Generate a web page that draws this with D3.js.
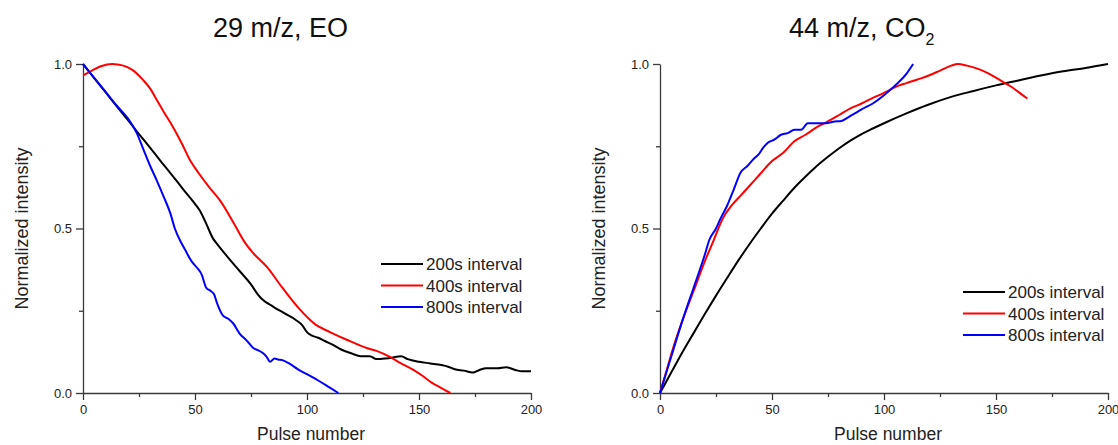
<!DOCTYPE html>
<html>
<head>
<meta charset="utf-8">
<script src="https://cdn.jsdelivr.net/npm/d3@7"></script>
<style>
  html, body { margin: 0; padding: 0; background: #fff; }
  svg { display: block; font-family: "Liberation Sans", Arial, sans-serif; }
</style>
</head>
<body>
<svg id="chart" width="1118" height="445"></svg>
<script>
// ---- Data: normalized intensity vs. pulse number ----
const seriesNames = ["200s interval", "400s interval", "800s interval"];
const seriesColors = ["#000000", "#ff0000", "#0000ff"];

const xTicks = [0, 50, 100, 150, 200];
const yTicks = [0.0, 0.5, 1.0];

// 29 m/z (EO)
const eo200 = [[0,1.0],[5,0.957],[10,0.915],[15,0.872],[20,0.83],[25,0.787],[30,0.745],[35,0.702],[40,0.66],[45,0.617],[50,0.575],[52,0.556],[55,0.515],[58,0.47],[60,0.452],[65,0.41],[70,0.37],[75,0.33],[78,0.30],[80,0.285],[85,0.262],[90,0.242],[95,0.222],[98,0.205],[100,0.185],[102,0.175],[105,0.168],[108,0.158],[112,0.145],[115,0.133],[120,0.12],[124,0.112],[128,0.112],[131,0.103],[135,0.105],[140,0.11],[142,0.112],[145,0.103],[150,0.095],[155,0.09],[160,0.085],[163,0.08],[166,0.072],[170,0.068],[174,0.062],[177,0.07],[180,0.075],[185,0.075],[189,0.078],[193,0.07],[196,0.066],[200,0.066]];
const eo400 = [[0,0.965],[4,0.98],[8,0.993],[13,1.0],[18,0.995],[22,0.982],[27,0.95],[30,0.925],[33,0.89],[36,0.855],[39,0.822],[44,0.76],[48,0.705],[52,0.665],[57,0.62],[61,0.587],[67,0.52],[72,0.46],[76,0.425],[82,0.384],[89,0.32],[96,0.26],[104,0.207],[110,0.186],[118,0.161],[127,0.136],[131,0.128],[137,0.11],[142,0.09],[147.5,0.07],[152,0.05],[156,0.03],[160,0.015],[164,0.0]];
const eo800 = [[0,1.0],[5,0.958],[10,0.916],[15,0.874],[20,0.835],[24,0.79],[27,0.74],[30,0.69],[33,0.645],[36,0.597],[39,0.546],[41,0.5],[44,0.455],[46,0.43],[48.5,0.40],[51,0.38],[53,0.36],[55,0.32],[57,0.31],[58.5,0.30],[60,0.27],[62.5,0.235],[65,0.225],[67,0.212],[70,0.18],[73,0.16],[76,0.137],[78,0.13],[80,0.123],[82,0.11],[83.5,0.095],[85.5,0.105],[87,0.102],[89,0.10],[92,0.09],[96,0.072],[100,0.057],[105,0.038],[110,0.017],[114,0.0]];

// 44 m/z (CO2)
const co200 = [[0,0],[5,0.062],[10,0.124],[15,0.182],[20,0.24],[25,0.296],[30,0.35],[35,0.403],[40,0.453],[45,0.5],[50,0.545],[55,0.585],[60,0.624],[65,0.658],[70,0.69],[75,0.718],[80,0.744],[85,0.767],[90,0.787],[95,0.804],[100,0.82],[110,0.85],[120,0.877],[130,0.90],[140,0.918],[150,0.935],[160,0.95],[170,0.965],[180,0.978],[190,0.988],[200,1.0]];
const co400 = [[0,0],[3,0.07],[6,0.14],[10,0.22],[15,0.31],[20,0.40],[24,0.465],[28,0.53],[32,0.57],[36,0.60],[40,0.63],[45,0.668],[50,0.705],[55,0.73],[60,0.765],[65,0.785],[70,0.808],[74,0.822],[80,0.845],[85,0.865],[90,0.88],[95,0.897],[100,0.912],[105,0.93],[110,0.942],[115,0.953],[120,0.965],[125,0.98],[130,0.995],[133,1.0],[137,0.995],[142,0.985],[147,0.97],[152,0.95],[157,0.93],[161,0.91],[164,0.895]];
const co800 = [[0,0],[5,0.11],[10,0.22],[15,0.32],[20,0.42],[22,0.465],[25,0.50],[27,0.53],[30,0.57],[33,0.62],[36,0.67],[39,0.69],[42,0.713],[44,0.725],[46,0.745],[48,0.76],[51,0.77],[54,0.785],[57,0.79],[60,0.80],[63,0.80],[66,0.82],[70,0.82],[74,0.82],[78,0.825],[81,0.827],[84,0.838],[87,0.85],[90,0.862],[95,0.88],[100,0.905],[105,0.935],[110,0.97],[113,1.0]];

const panels = [
  { title: "29 m/z, EO", sub: null, series: [eo200, eo400, eo800],
    left: 83, right: 531, titleX: 213, legendX: 381, legendY: 264 },
  { title: "44 m/z, CO", sub: "2", series: [co200, co400, co800],
    left: 660, right: 1108, titleX: 789, legendX: 963, legendY: 292 }
];

const plotTop = 64, plotBottom = 393;
const axisColor = "#3a3a3a";
const textColor = "#222";

const svg = d3.select("#chart");

panels.forEach(p => {
  const x = d3.scaleLinear().domain([0, 200]).range([p.left, p.right]);
  const y = d3.scaleLinear().domain([0, 1]).range([plotBottom, plotTop]);
  const g = svg.append("g");

  // minor ticks
  g.append("g").attr("transform", `translate(0,${plotBottom})`)
    .call(d3.axisBottom(x).tickValues([25, 75, 125, 175]).tickSize(4).tickFormat(""))
    .call(a => a.select(".domain").remove());
  g.append("g").attr("transform", `translate(${p.left},0)`)
    .call(d3.axisLeft(y).tickValues([0.25, 0.75]).tickSize(4).tickFormat(""))
    .call(a => a.select(".domain").remove());

  // major axes
  g.append("g").attr("class", "xaxis").attr("transform", `translate(0,${plotBottom})`)
    .call(d3.axisBottom(x).tickValues(xTicks).tickSize(7).tickSizeOuter(0).tickPadding(5).tickFormat(d3.format("d")));
  g.append("g").attr("class", "yaxis").attr("transform", `translate(${p.left},0)`)
    .call(d3.axisLeft(y).tickValues(yTicks).tickSize(7).tickSizeOuter(0).tickPadding(4).tickFormat(d3.format(".1f")));

  g.selectAll(".domain, .tick line").attr("stroke", axisColor).attr("stroke-width", 1.3);
  g.selectAll(".tick text").attr("fill", textColor).style("font-size", "13px")
    .style("font-family", "'Liberation Sans', Arial, sans-serif");

  // axis titles
  g.append("text")
    .attr("x", (p.left + p.right) / 2 + 4).attr("y", 440)
    .attr("text-anchor", "middle").attr("fill", textColor)
    .style("font-size", "17.5px").text("Pulse number");
  g.append("text")
    .attr("transform", `translate(${p.left - 55},${(plotTop + plotBottom) / 2}) rotate(-90)`)
    .attr("text-anchor", "middle").attr("fill", textColor)
    .style("font-size", "18px").text("Normalized intensity");

  // title
  const t = g.append("text")
    .attr("x", p.titleX).attr("y", 37)
    .attr("fill", "#111").style("font-size", "27px").text(p.title);
  if (p.sub) {
    t.append("tspan").attr("dy", 8).style("font-size", "16px").text(p.sub);
  }

  // curves
  const line = d3.line().x(d => x(d[0])).y(d => y(d[1])).curve(d3.curveMonotoneX);
  p.series.forEach((s, i) => {
    g.append("path").datum(s)
      .attr("fill", "none").attr("stroke", seriesColors[i])
      .attr("stroke-width", 2).attr("stroke-linejoin", "round")
      .attr("d", line);
  });

  // legend
  seriesNames.forEach((name, i) => {
    const ly = p.legendY + i * 21.5;
    g.append("line")
      .attr("x1", p.legendX).attr("x2", p.legendX + 42)
      .attr("y1", ly).attr("y2", ly)
      .attr("stroke", seriesColors[i]).attr("stroke-width", 2);
    g.append("text")
      .attr("x", p.legendX + 45).attr("y", ly + 6)
      .attr("fill", textColor).style("font-size", "17px").text(name);
  });
});
</script>
</body>
</html>
